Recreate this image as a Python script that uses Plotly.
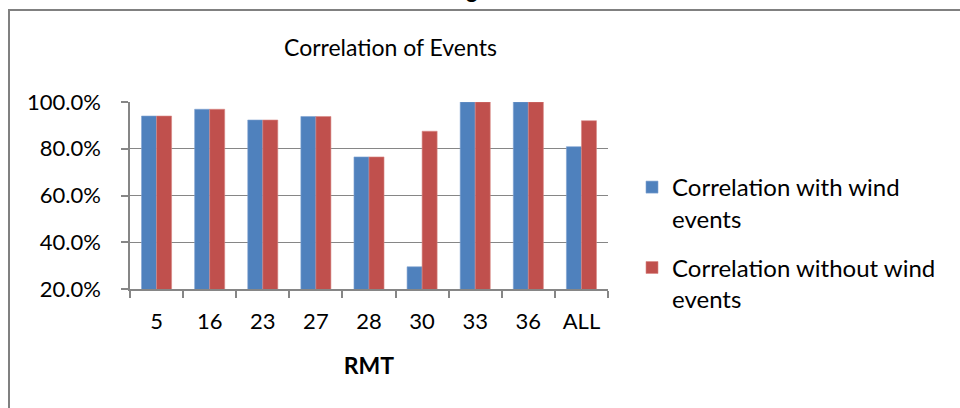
import plotly.graph_objects as go

categories = ["5", "16", "23", "27", "28", "30", "33", "36", "ALL"]
with_wind = [0.940, 0.969, 0.923, 0.938, 0.765, 0.295, 1.000, 1.000, 0.809]
without_wind = [0.940, 0.969, 0.923, 0.938, 0.765, 0.875, 1.000, 1.000, 0.920]
series_names = ["Correlation with wind<br>events", "Correlation without wind<br>events"]
y_ticks = [0.2, 0.4, 0.6, 0.8, 1.0]

W, H = 960, 408
L, R, T, B = 130, 608, 102, 289  # plot area in pixels
FONT = "Lato"


def px(x):
    return (x - L) / (R - L)


def py(y):
    return (B - y) / (B - T)


fig = go.Figure()
fig.add_trace(go.Bar(x=categories, y=with_wind, name=series_names[0],
                     marker=dict(color="#4F81BD", line=dict(color="#7FA3D2", width=0.6)),
                     legendgroup="a"))
fig.add_trace(go.Bar(x=categories, y=without_wind, name=series_names[1],
                     marker=dict(color="#C0504D", line=dict(color="#D98885", width=0.6)),
                     legendgroup="b"))

fig.update_layout(
    width=W, height=H,
    margin=dict(l=L, r=W - R, t=T, b=H - B, pad=0),
    paper_bgcolor="white", plot_bgcolor="white",
    barmode="group", bargap=0.434, bargroupgap=0,
    font=dict(family=FONT, size=22, color="black"),
    showlegend=True,
    legend=dict(x=px(632), xanchor="left", y=py(165), yanchor="top",
                valign="top", traceorder="grouped", tracegroupgap=15,
                font=dict(family=FONT, size=24, color="black"),
                bgcolor="rgba(0,0,0,0)"),
    xaxis=dict(
        type="category", showgrid=False, showline=True, linecolor="#868686", linewidth=1.5,
        ticks="outside", tickson="boundaries", ticklen=7, tickcolor="#868686", tickwidth=1.5,
        ticklabelstandoff=12,
        tickfont=dict(family=FONT, size=22, color="black"),
        title=dict(text="<b>RMT</b>", font=dict(family=FONT, size=23, color="black"), standoff=25),
    ),
    yaxis=dict(
        range=[0.2, 1.0], tickvals=y_ticks, tickformat=".1%",
        showgrid=True, gridcolor="#868686", gridwidth=1.3,
        showline=True, linecolor="#868686", linewidth=1.5,
        ticks="outside", ticklen=7, tickcolor="#868686", tickwidth=1.5,
        ticklabelstandoff=16, zeroline=False,
        tickfont=dict(family=FONT, size=22, color="black"),
    ),
    shapes=[dict(type="rect", xref="paper", yref="paper",
                 x0=px(9), x1=px(990), y0=py(440), y1=py(10),
                 line=dict(color="#808080", width=2), fillcolor="rgba(0,0,0,0)", layer="below")],
    annotations=[
        dict(text="Correlation of Events", xref="paper", yref="paper",
             x=px(390), y=py(47), xanchor="center", yanchor="middle", showarrow=False,
             font=dict(family=FONT, size=23, color="black")),
        dict(text="<b>Figure 4</b>", xref="paper", yref="paper",
             x=px(488), y=py(5), xanchor="center", yanchor="bottom", showarrow=False,
             font=dict(family=FONT, size=22, color="black")),
    ],
)

fig.write_html("out.html")
